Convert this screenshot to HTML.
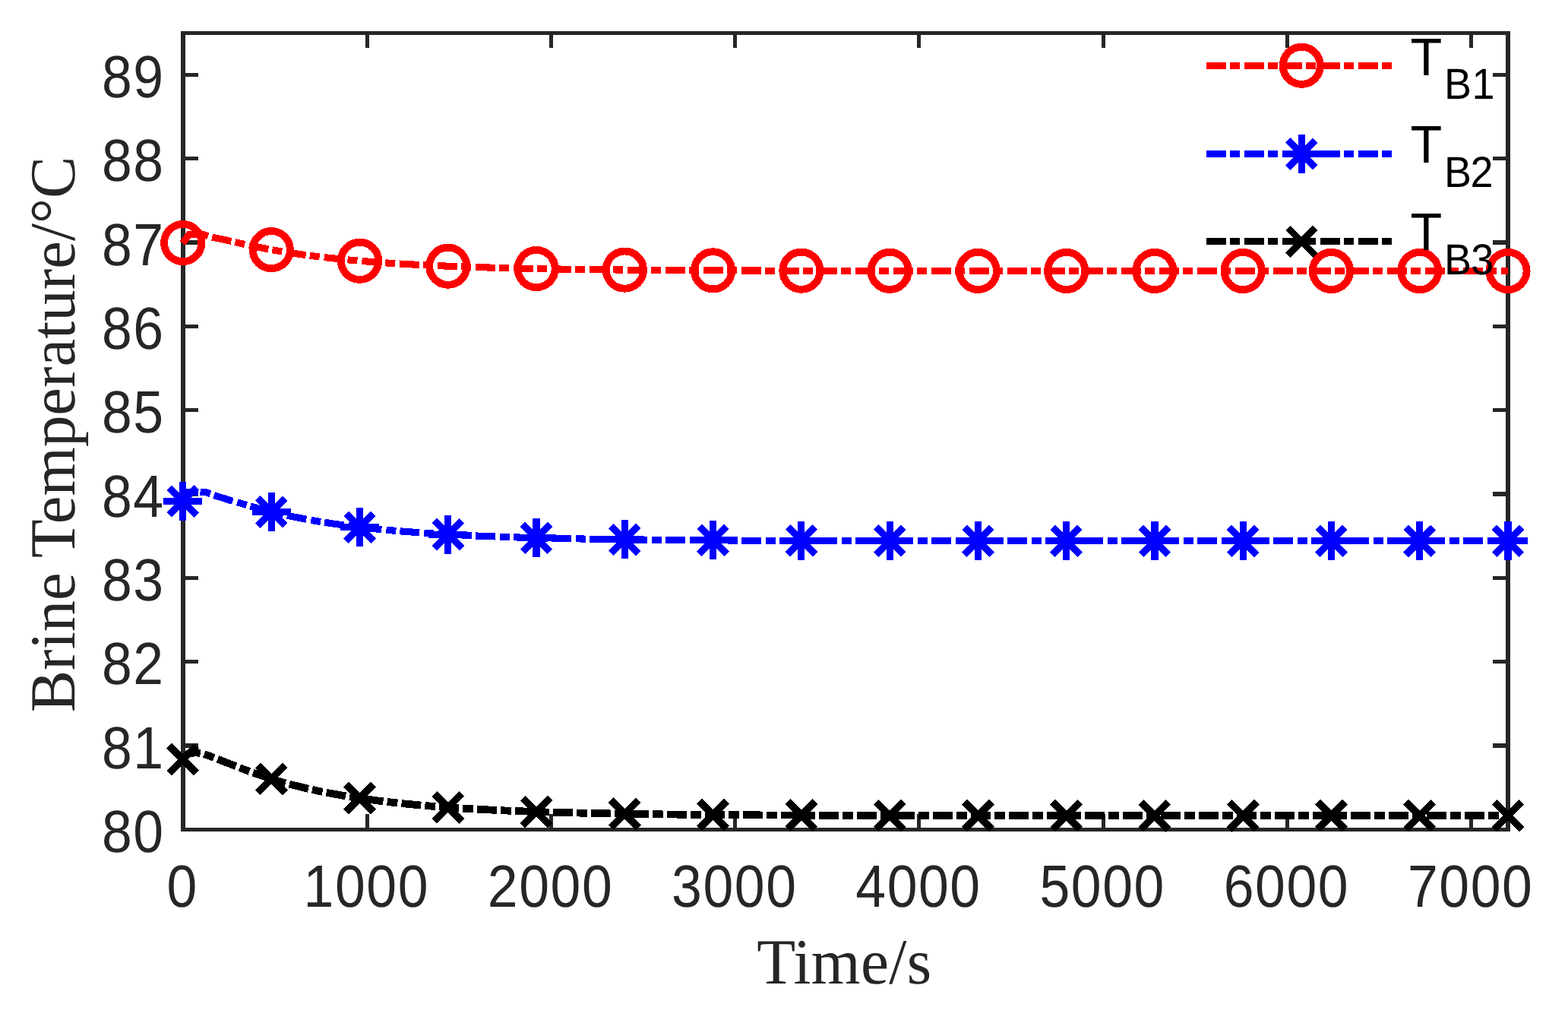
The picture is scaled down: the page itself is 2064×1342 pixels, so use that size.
<!DOCTYPE html>
<html lang="en">
<head>
<meta charset="utf-8">
<title>Brine Temperature vs Time</title>
<style>
html,body{margin:0;padding:0;background:#fff;}
body{width:2064px;height:1342px;overflow:hidden;}
svg{display:block;}
svg text{white-space:pre;text-rendering:geometricPrecision;}
</style>
</head>
<body>
<svg width="2064" height="1342" viewBox="0 0 2064 1342" shape-rendering="crispEdges" role="img" aria-label="Brine temperature versus time for TB1, TB2 and TB3">
<rect x="0" y="0" width="2064" height="1342" fill="#ffffff"/>
<g class="axes" fill="#262626">
<rect x="238" y="41" width="1750" height="5"/>
<rect x="238" y="1089" width="1750" height="5"/>
<rect x="238" y="41" width="6" height="1053"/>
<rect x="1982" y="41" width="6" height="1053"/>
<rect x="481" y="1071" width="5" height="20"/>
<rect x="481" y="44" width="5" height="19"/>
<rect x="723" y="1071" width="5" height="20"/>
<rect x="723" y="44" width="5" height="19"/>
<rect x="965" y="1071" width="5" height="20"/>
<rect x="965" y="44" width="5" height="19"/>
<rect x="1207" y="1071" width="5" height="20"/>
<rect x="1207" y="44" width="5" height="19"/>
<rect x="1450" y="1071" width="5" height="20"/>
<rect x="1450" y="44" width="5" height="19"/>
<rect x="1692" y="1071" width="5" height="20"/>
<rect x="1692" y="44" width="5" height="19"/>
<rect x="1934" y="1071" width="5" height="20"/>
<rect x="1934" y="44" width="5" height="19"/>
<rect x="242" y="978" width="19" height="6"/>
<rect x="1965" y="978" width="19" height="6"/>
<rect x="242" y="868" width="19" height="5"/>
<rect x="1965" y="868" width="19" height="5"/>
<rect x="242" y="758" width="19" height="5"/>
<rect x="1965" y="758" width="19" height="5"/>
<rect x="242" y="647" width="19" height="6"/>
<rect x="1965" y="647" width="19" height="6"/>
<rect x="242" y="537" width="19" height="5"/>
<rect x="1965" y="537" width="19" height="5"/>
<rect x="242" y="427" width="19" height="5"/>
<rect x="1965" y="427" width="19" height="5"/>
<rect x="242" y="316" width="19" height="6"/>
<rect x="1965" y="316" width="19" height="6"/>
<rect x="242" y="206" width="19" height="5"/>
<rect x="1965" y="206" width="19" height="5"/>
<rect x="242" y="96" width="19" height="5"/>
<rect x="1965" y="96" width="19" height="5"/>
</g>
<g class="ticklabels">
<text transform="translate(240.1 1192.9) scale(0.9540 1.0450)" text-anchor="middle" font-family="'Liberation Sans', Arial, Helvetica, sans-serif" font-size="75" fill="#262626" letter-spacing="1.64">0</text>
<text transform="translate(482.32 1192.9) scale(0.9540 1.0450)" text-anchor="middle" font-family="'Liberation Sans', Arial, Helvetica, sans-serif" font-size="75" fill="#262626" letter-spacing="1.64">1000</text>
<text transform="translate(724.54 1192.9) scale(0.9540 1.0450)" text-anchor="middle" font-family="'Liberation Sans', Arial, Helvetica, sans-serif" font-size="75" fill="#262626" letter-spacing="1.64">2000</text>
<text transform="translate(966.77 1192.9) scale(0.9540 1.0450)" text-anchor="middle" font-family="'Liberation Sans', Arial, Helvetica, sans-serif" font-size="75" fill="#262626" letter-spacing="1.64">3000</text>
<text transform="translate(1208.99 1192.9) scale(0.9540 1.0450)" text-anchor="middle" font-family="'Liberation Sans', Arial, Helvetica, sans-serif" font-size="75" fill="#262626" letter-spacing="1.64">4000</text>
<text transform="translate(1451.21 1192.9) scale(0.9540 1.0450)" text-anchor="middle" font-family="'Liberation Sans', Arial, Helvetica, sans-serif" font-size="75" fill="#262626" letter-spacing="1.64">5000</text>
<text transform="translate(1693.43 1192.9) scale(0.9540 1.0450)" text-anchor="middle" font-family="'Liberation Sans', Arial, Helvetica, sans-serif" font-size="75" fill="#262626" letter-spacing="1.64">6000</text>
<text transform="translate(1935.66 1192.9) scale(0.9540 1.0450)" text-anchor="middle" font-family="'Liberation Sans', Arial, Helvetica, sans-serif" font-size="75" fill="#262626" letter-spacing="1.64">7000</text>
<text transform="translate(216.6 1121) scale(0.9540 1.0450)" text-anchor="end" font-family="'Liberation Sans', Arial, Helvetica, sans-serif" font-size="75" fill="#262626" letter-spacing="1.64">80</text>
<text transform="translate(216.6 1010.68) scale(0.9540 1.0450)" text-anchor="end" font-family="'Liberation Sans', Arial, Helvetica, sans-serif" font-size="75" fill="#262626" letter-spacing="1.64">81</text>
<text transform="translate(216.6 900.37) scale(0.9540 1.0450)" text-anchor="end" font-family="'Liberation Sans', Arial, Helvetica, sans-serif" font-size="75" fill="#262626" letter-spacing="1.64">82</text>
<text transform="translate(216.6 790.05) scale(0.9540 1.0450)" text-anchor="end" font-family="'Liberation Sans', Arial, Helvetica, sans-serif" font-size="75" fill="#262626" letter-spacing="1.64">83</text>
<text transform="translate(216.6 679.74) scale(0.9540 1.0450)" text-anchor="end" font-family="'Liberation Sans', Arial, Helvetica, sans-serif" font-size="75" fill="#262626" letter-spacing="1.64">84</text>
<text transform="translate(216.6 569.42) scale(0.9540 1.0450)" text-anchor="end" font-family="'Liberation Sans', Arial, Helvetica, sans-serif" font-size="75" fill="#262626" letter-spacing="1.64">85</text>
<text transform="translate(216.6 459.11) scale(0.9540 1.0450)" text-anchor="end" font-family="'Liberation Sans', Arial, Helvetica, sans-serif" font-size="75" fill="#262626" letter-spacing="1.64">86</text>
<text transform="translate(216.6 348.79) scale(0.9540 1.0450)" text-anchor="end" font-family="'Liberation Sans', Arial, Helvetica, sans-serif" font-size="75" fill="#262626" letter-spacing="1.64">87</text>
<text transform="translate(216.6 238.47) scale(0.9540 1.0450)" text-anchor="end" font-family="'Liberation Sans', Arial, Helvetica, sans-serif" font-size="75" fill="#262626" letter-spacing="1.64">88</text>
<text transform="translate(216.6 128.16) scale(0.9540 1.0450)" text-anchor="end" font-family="'Liberation Sans', Arial, Helvetica, sans-serif" font-size="75" fill="#262626" letter-spacing="1.64">89</text>
</g>
<g class="axislabels">
<text transform="translate(1111.3 1293.7) scale(1.0001 1.0180)" text-anchor="middle" font-family="'Liberation Serif', 'Times New Roman', Times, serif" font-size="83.33" fill="#262626" letter-spacing="0.3">Time/s</text>
<text transform="translate(97.8 571.4) rotate(-90) scale(0.9934 1.0180)" text-anchor="middle" font-family="'Liberation Serif', 'Times New Roman', Times, serif" font-size="83.33" fill="#262626">Brine Temperature/°C</text>
</g>
<g class="series red">
<path d="M240.4 320 L248.6 308.8 L268.5 308.7 L273.9 310.9 M279.09 312.04 L304.44 317.35 M309.4 318.53 L322.04 321.54 M327.91 322.82 L353.31 327.88 M358.32 328.79 L371.14 330.97 M377.06 331.92 L402.69 335.64 M407.75 336.31 L420.65 337.91 M426.61 338.6 L452.37 341.32 M457.44 341.81 L470.39 342.98 M476.37 343.49 L502.19 345.47 M507.28 345.82 L520.25 346.67 M526.24 347.04 L552.1 348.49 M557.2 348.74 L570.18 349.36 M576.18 349.63 L602.05 350.68 M607.15 350.87 L620.14 351.32 M626.14 351.51 L652.03 352.27 M657.13 352.41 L670.12 352.74 M676.12 352.88 L702.01 353.43 M707.11 353.53 L720.11 353.77 M726.11 353.87 L752.01 354.27 M757.11 354.34 L770.11 354.52 M776.11 354.59 L802 354.88 M807.1 354.93 L820.1 355.06 M826.1 355.11 L852 355.33 M857.1 355.36 L870.1 355.45 M876.1 355.49 L902 355.65 M907.1 355.67 L920.1 355.74 M926.1 355.77 L952 355.88 M957.1 355.9 L970.1 355.95 M976.1 355.97 L1002 356.05 M1007.1 356.06 L1020.1 356.1 M1026.1 356.11 L1052 356.17 M1057.1 356.18 L1070.1 356.21 M1076.1 356.22 L1102 356.26 M1107.1 356.27 L1120.1 356.29 M1126.1 356.3 L1152 356.33 M1157.1 356.33 L1170.1 356.35 M1176.1 356.35 L1202 356.38 M1207.1 356.38 L1220.1 356.39 M1226.1 356.39 L1252 356.41 M1257.1 356.41 L1270.1 356.42 M1276.1 356.42 L1302 356.43 M1307.1 356.44 L1320.1 356.44 M1326.1 356.44 L1352 356.45 M1357.1 356.45 L1370.1 356.46 M1376.1 356.46 L1402 356.47 M1407.1 356.47 L1420.1 356.47 M1426.1 356.47 L1452 356.47 M1457.1 356.48 L1470.1 356.48 M1476.1 356.48 L1502 356.48 M1507.1 356.48 L1520.1 356.48 M1526.1 356.48 L1552 356.49 M1557.1 356.49 L1570.1 356.49 M1576.1 356.49 L1602 356.49 M1607.1 356.49 L1620.1 356.49 M1626.1 356.49 L1652 356.49 M1657.1 356.49 L1670.1 356.49 M1676.1 356.49 L1702 356.49 M1707.1 356.5 L1720.1 356.5 M1726.1 356.5 L1752 356.5 M1757.1 356.5 L1770.1 356.5 M1776.1 356.5 L1802 356.5 M1807.1 356.5 L1820.1 356.5 M1826.1 356.5 L1852 356.5 M1857.1 356.5 L1870.1 356.5 M1876.1 356.5 L1902 356.5 M1907.1 356.5 L1920.1 356.5 M1926.1 356.5 L1952 356.5 M1957.1 356.5 L1970.1 356.5 M1976.1 356.5 L1985 356.5" fill="none" stroke="#ff0000" stroke-width="9.1" stroke-linejoin="miter"/>
<circle cx="240.7" cy="319.5" r="24.6" fill="none" stroke="#ff0000" stroke-width="9.9"/>
<circle cx="357.27" cy="328.6" r="24.6" fill="none" stroke="#ff0000" stroke-width="9.9"/>
<circle cx="473.53" cy="343.25" r="24.6" fill="none" stroke="#ff0000" stroke-width="9.9"/>
<circle cx="589.8" cy="350.21" r="24.6" fill="none" stroke="#ff0000" stroke-width="9.9"/>
<circle cx="706.07" cy="353.51" r="24.6" fill="none" stroke="#ff0000" stroke-width="9.9"/>
<circle cx="822.33" cy="355.08" r="24.6" fill="none" stroke="#ff0000" stroke-width="9.9"/>
<circle cx="938.6" cy="355.83" r="24.6" fill="none" stroke="#ff0000" stroke-width="9.9"/>
<circle cx="1054.87" cy="356.18" r="24.6" fill="none" stroke="#ff0000" stroke-width="9.9"/>
<circle cx="1171.13" cy="356.35" r="24.6" fill="none" stroke="#ff0000" stroke-width="9.9"/>
<circle cx="1287.4" cy="356.43" r="24.6" fill="none" stroke="#ff0000" stroke-width="9.9"/>
<circle cx="1403.67" cy="356.47" r="24.6" fill="none" stroke="#ff0000" stroke-width="9.9"/>
<circle cx="1519.93" cy="356.48" r="24.6" fill="none" stroke="#ff0000" stroke-width="9.9"/>
<circle cx="1636.2" cy="356.49" r="24.6" fill="none" stroke="#ff0000" stroke-width="9.9"/>
<circle cx="1752.47" cy="356.5" r="24.6" fill="none" stroke="#ff0000" stroke-width="9.9"/>
<circle cx="1868.73" cy="356.5" r="24.6" fill="none" stroke="#ff0000" stroke-width="9.9"/>
<circle cx="1985" cy="356.5" r="24.6" fill="none" stroke="#ff0000" stroke-width="9.9"/>
</g>
<g class="series blue">
<path d="M240.5 659.4 L246 647.6 L261 647.34 M263.5 647.41 L270.5 647.6 L277.05 649.6 M281.57 651.55 L306.3 659.27 M312.23 660.7 L324.63 664.58 M329.42 666.02 L354.42 672.79 M360.34 674.25 L373.01 677.17 M377.89 678.24 L403.3 683.28 M409.3 684.35 L422.12 686.52 M427.06 687.3 L452.69 691.01 M458.74 691.8 L471.64 693.39 M476.61 693.96 L502.37 696.67 M508.44 697.25 L521.39 698.41 M526.37 698.83 L552.19 700.81 M558.28 701.23 L571.25 702.07 M576.24 702.37 L602.1 703.81 M608.19 704.12 L621.18 704.73 M626.17 704.95 L652.05 706 M658.15 706.22 L671.14 706.67 M676.14 706.83 L702.03 707.59 M708.13 707.75 L721.12 708.07 M726.12 708.19 L752.01 708.74 M758.11 708.86 L771.11 709.09 M776.11 709.18 L802.01 709.58 M808.11 709.66 L821.11 709.83 M826.11 709.9 L852 710.19 M858.1 710.25 L871.1 710.37 M876.1 710.42 L902 710.63 M908.1 710.67 L921.1 710.76 M926.1 710.8 L952 710.95 M958.1 710.98 L971.1 711.05 M976.1 711.07 L1002 711.18 M1008.1 711.21 L1021.1 711.25 M1026.1 711.27 L1052 711.35 M1058.1 711.37 L1071.1 711.4 M1076.1 711.42 L1102 711.47 M1108.1 711.49 L1121.1 711.51 M1126.1 711.52 L1152 711.56 M1158.1 711.57 L1171.1 711.59 M1176.1 711.6 L1202 711.63 M1208.1 711.64 L1221.1 711.65 M1226.1 711.65 L1252 711.68 M1258.1 711.68 L1271.1 711.69 M1276.1 711.69 L1302 711.71 M1308.1 711.71 L1321.1 711.72 M1326.1 711.72 L1352 711.73 M1358.1 711.74 L1371.1 711.74 M1376.1 711.74 L1402 711.75 M1408.1 711.75 L1421.1 711.76 M1426.1 711.76 L1452 711.77 M1458.1 711.77 L1471.1 711.77 M1476.1 711.77 L1502 711.77 M1508.1 711.78 L1521.1 711.78 M1526.1 711.78 L1552 711.78 M1558.1 711.78 L1571.1 711.78 M1576.1 711.78 L1602 711.79 M1608.1 711.79 L1621.1 711.79 M1626.1 711.79 L1652 711.79 M1658.1 711.79 L1671.1 711.79 M1676.1 711.79 L1702 711.79 M1708.1 711.79 L1721.1 711.79 M1726.1 711.79 L1752 711.79 M1758.1 711.8 L1771.1 711.8 M1776.1 711.8 L1802 711.8 M1808.1 711.8 L1821.1 711.8 M1826.1 711.8 L1852 711.8 M1858.1 711.8 L1871.1 711.8 M1876.1 711.8 L1902 711.8 M1908.1 711.8 L1921.1 711.8 M1926.1 711.8 L1952 711.8 M1958.1 711.8 L1971.1 711.8 M1976.1 711.8 L1985 711.8" fill="none" stroke="#0000ff" stroke-width="9.1" stroke-linejoin="miter"/>
<path d="M215.1 659.5 L266.1 659.5 M240.6 634 L240.6 685 M222.57 641.47 L258.63 677.53 M222.57 677.53 L258.63 641.47" fill="none" stroke="#0000ff" stroke-width="9.2"/>
<path d="M331.77 673.5 L382.77 673.5 M357.27 648 L357.27 699 M339.24 655.47 L375.3 691.53 M339.24 691.53 L375.3 655.47" fill="none" stroke="#0000ff" stroke-width="9.2"/>
<path d="M448.03 693.61 L499.03 693.61 M473.53 668.11 L473.53 719.11 M455.5 675.58 L491.56 711.64 M455.5 711.64 L491.56 675.58" fill="none" stroke="#0000ff" stroke-width="9.2"/>
<path d="M564.3 703.16 L615.3 703.16 M589.8 677.66 L589.8 728.66 M571.77 685.13 L607.83 721.19 M571.77 721.19 L607.83 685.13" fill="none" stroke="#0000ff" stroke-width="9.2"/>
<path d="M680.57 707.7 L731.57 707.7 M706.07 682.2 L706.07 733.2 M688.04 689.66 L724.1 725.73 M688.04 725.73 L724.1 689.66" fill="none" stroke="#0000ff" stroke-width="9.2"/>
<path d="M796.83 709.85 L847.83 709.85 M822.33 684.35 L822.33 735.35 M804.3 691.82 L840.36 727.88 M804.3 727.88 L840.36 691.82" fill="none" stroke="#0000ff" stroke-width="9.2"/>
<path d="M913.1 710.87 L964.1 710.87 M938.6 685.37 L938.6 736.37 M920.57 692.84 L956.63 728.91 M920.57 728.91 L956.63 692.84" fill="none" stroke="#0000ff" stroke-width="9.2"/>
<path d="M1029.37 711.36 L1080.37 711.36 M1054.87 685.86 L1054.87 736.86 M1036.84 693.33 L1072.9 729.39 M1036.84 729.39 L1072.9 693.33" fill="none" stroke="#0000ff" stroke-width="9.2"/>
<path d="M1145.63 711.59 L1196.63 711.59 M1171.13 686.09 L1171.13 737.09 M1153.1 693.56 L1189.16 729.62 M1153.1 729.62 L1189.16 693.56" fill="none" stroke="#0000ff" stroke-width="9.2"/>
<path d="M1261.9 711.7 L1312.9 711.7 M1287.4 686.2 L1287.4 737.2 M1269.37 693.67 L1305.43 729.73 M1269.37 729.73 L1305.43 693.67" fill="none" stroke="#0000ff" stroke-width="9.2"/>
<path d="M1378.17 711.75 L1429.17 711.75 M1403.67 686.25 L1403.67 737.25 M1385.64 693.72 L1421.7 729.78 M1385.64 729.78 L1421.7 693.72" fill="none" stroke="#0000ff" stroke-width="9.2"/>
<path d="M1494.43 711.78 L1545.43 711.78 M1519.93 686.28 L1519.93 737.28 M1501.9 693.75 L1537.96 729.81 M1501.9 729.81 L1537.96 693.75" fill="none" stroke="#0000ff" stroke-width="9.2"/>
<path d="M1610.7 711.79 L1661.7 711.79 M1636.2 686.29 L1636.2 737.29 M1618.17 693.76 L1654.23 729.82 M1618.17 729.82 L1654.23 693.76" fill="none" stroke="#0000ff" stroke-width="9.2"/>
<path d="M1726.97 711.79 L1777.97 711.79 M1752.47 686.29 L1752.47 737.29 M1734.44 693.76 L1770.5 729.83 M1734.44 729.83 L1770.5 693.76" fill="none" stroke="#0000ff" stroke-width="9.2"/>
<path d="M1843.23 711.8 L1894.23 711.8 M1868.73 686.3 L1868.73 737.3 M1850.7 693.77 L1886.76 729.83 M1850.7 729.83 L1886.76 693.77" fill="none" stroke="#0000ff" stroke-width="9.2"/>
<path d="M1959.5 711.8 L2010.5 711.8 M1985 686.3 L1985 737.3 M1966.97 693.77 L2003.03 729.83 M1966.97 729.83 L2003.03 693.77" fill="none" stroke="#0000ff" stroke-width="9.2"/>
</g>
<g class="series black">
<path d="M240.95 998.67 L246 993.16 L247.5 991.88 L248.5 991.3 L249.5 991 L257 990.4 L263.69 990.91 M268.63 992.18 L281.72 996.83 M286.45 998.73 L310.58 1008.13 M315.33 1009.99 L328.27 1015.05 M333.06 1016.8 L357.62 1025.01 M362.5 1026.49 L375.87 1030.32 M380.79 1031.65 L405.94 1037.83 M410.92 1038.94 L424.52 1041.8 M429.52 1042.79 L455.01 1047.37 M460.05 1048.19 L473.79 1050.29 M478.83 1051.02 L504.51 1054.39 M509.58 1054.99 L523.39 1056.53 M528.47 1057.06 L554.25 1059.52 M559.33 1059.95 L573.18 1061.08 M578.27 1061.47 L604.11 1063.26 M609.2 1063.58 L623.07 1064.39 M628.17 1064.68 L654.03 1065.98 M659.13 1066.21 L673.01 1066.8 M678.11 1067.01 L703.99 1067.95 M709.09 1068.12 L722.98 1068.55 M728.08 1068.7 L753.97 1069.39 M759.07 1069.51 L772.97 1069.83 M778.07 1069.94 L803.96 1070.43 M809.06 1070.52 L822.96 1070.75 M828.06 1070.83 L853.96 1071.19 M859.06 1071.26 L872.95 1071.42 M878.05 1071.48 L903.95 1071.74 M909.05 1071.79 L922.95 1071.91 M928.05 1071.95 L953.95 1072.14 M959.05 1072.18 L972.95 1072.26 M978.05 1072.29 L1003.95 1072.43 M1009.05 1072.46 L1022.95 1072.52 M1028.05 1072.54 L1053.95 1072.64 M1059.05 1072.66 L1072.95 1072.71 M1078.05 1072.72 L1103.95 1072.79 M1109.05 1072.81 L1122.95 1072.84 M1128.05 1072.85 L1153.95 1072.91 M1159.05 1072.92 L1172.95 1072.94 M1178.05 1072.95 L1203.95 1072.99 M1209.05 1072.99 L1222.95 1073.01 M1228.05 1073.02 L1253.95 1073.04 M1259.05 1073.05 L1272.95 1073.06 M1278.05 1073.07 L1303.95 1073.09 M1309.05 1073.09 L1322.95 1073.1 M1328.05 1073.1 L1353.95 1073.12 M1359.05 1073.12 L1372.95 1073.13 M1378.05 1073.13 L1403.95 1073.14 M1409.05 1073.14 L1422.95 1073.15 M1428.05 1073.15 L1453.95 1073.16 M1459.05 1073.16 L1472.95 1073.16 M1478.05 1073.16 L1503.95 1073.17 M1509.05 1073.17 L1522.95 1073.17 M1528.05 1073.17 L1553.95 1073.18 M1559.05 1073.18 L1572.95 1073.18 M1578.05 1073.18 L1603.95 1073.18 M1609.05 1073.18 L1622.95 1073.19 M1628.05 1073.19 L1653.95 1073.19 M1659.05 1073.19 L1672.95 1073.19 M1678.05 1073.19 L1703.95 1073.19 M1709.05 1073.19 L1722.95 1073.19 M1728.05 1073.19 L1753.95 1073.19 M1759.05 1073.19 L1772.95 1073.19 M1778.05 1073.19 L1803.95 1073.2 M1809.05 1073.2 L1822.95 1073.2 M1828.05 1073.2 L1853.95 1073.2 M1859.05 1073.2 L1872.95 1073.2 M1878.05 1073.2 L1903.95 1073.2 M1909.05 1073.2 L1922.95 1073.2 M1928.05 1073.2 L1953.95 1073.2 M1959.05 1073.2 L1972.95 1073.2 M1978.05 1073.2 L1985 1073.2" fill="none" stroke="#000000" stroke-width="9.8" stroke-linejoin="miter"/>
<path d="M222.77 981.07 L258.83 1017.13 M222.77 1017.13 L258.83 981.07" fill="none" stroke="#000000" stroke-width="9.6"/>
<path d="M339.24 1006.87 L375.3 1042.93 M339.24 1042.93 L375.3 1006.87" fill="none" stroke="#000000" stroke-width="9.6"/>
<path d="M455.5 1032.23 L491.56 1068.29 M455.5 1068.29 L491.56 1032.23" fill="none" stroke="#000000" stroke-width="9.6"/>
<path d="M571.77 1044.27 L607.83 1080.33 M571.77 1080.33 L607.83 1044.27" fill="none" stroke="#000000" stroke-width="9.6"/>
<path d="M688.04 1049.99 L724.1 1086.05 M688.04 1086.05 L724.1 1049.99" fill="none" stroke="#000000" stroke-width="9.6"/>
<path d="M804.3 1052.71 L840.36 1088.77 M804.3 1088.77 L840.36 1052.71" fill="none" stroke="#000000" stroke-width="9.6"/>
<path d="M920.57 1054 L956.63 1090.06 M920.57 1090.06 L956.63 1054" fill="none" stroke="#000000" stroke-width="9.6"/>
<path d="M1036.84 1054.61 L1072.9 1090.68 M1036.84 1090.68 L1072.9 1054.61" fill="none" stroke="#000000" stroke-width="9.6"/>
<path d="M1153.1 1054.91 L1189.16 1090.97 M1153.1 1090.97 L1189.16 1054.91" fill="none" stroke="#000000" stroke-width="9.6"/>
<path d="M1269.37 1055.04 L1305.43 1091.11 M1269.37 1091.11 L1305.43 1055.04" fill="none" stroke="#000000" stroke-width="9.6"/>
<path d="M1385.64 1055.11 L1421.7 1091.17 M1385.64 1091.17 L1421.7 1055.11" fill="none" stroke="#000000" stroke-width="9.6"/>
<path d="M1501.9 1055.14 L1537.96 1091.2 M1501.9 1091.2 L1537.96 1055.14" fill="none" stroke="#000000" stroke-width="9.6"/>
<path d="M1618.17 1055.16 L1654.23 1091.22 M1618.17 1091.22 L1654.23 1055.16" fill="none" stroke="#000000" stroke-width="9.6"/>
<path d="M1734.44 1055.16 L1770.5 1091.22 M1734.44 1091.22 L1770.5 1055.16" fill="none" stroke="#000000" stroke-width="9.6"/>
<path d="M1850.7 1055.17 L1886.76 1091.23 M1850.7 1091.23 L1886.76 1055.17" fill="none" stroke="#000000" stroke-width="9.6"/>
<path d="M1966.97 1055.17 L2003.03 1091.23 M1966.97 1091.23 L2003.03 1055.17" fill="none" stroke="#000000" stroke-width="9.6"/>
</g>
<g class="legend">
<path d="M1588.15 86.3 L1613.85 86.3 M1619.25 86.3 L1631.95 86.3 M1638.15 86.3 L1663.85 86.3 M1669.25 86.3 L1681.95 86.3 M1688.15 86.3 L1713.85 86.3 M1719.25 86.3 L1731.95 86.3 M1738.15 86.3 L1763.85 86.3 M1769.25 86.3 L1781.95 86.3 M1788.15 86.3 L1813.85 86.3 M1819.25 86.3 L1831.8 86.3" fill="none" stroke="#ff0000" stroke-width="9.1"/>
<circle cx="1713.3" cy="86.3" r="24.6" fill="none" stroke="#ff0000" stroke-width="9.9"/>
<text transform="translate(1856.6 98.9) scale(1.0250 1.0450)" text-anchor="start" font-family="'Liberation Sans', Arial, Helvetica, sans-serif" font-size="66.67" fill="#000">T</text>
<text transform="translate(1901 130) scale(1.0000 1.0600)" text-anchor="start" font-family="'Liberation Sans', Arial, Helvetica, sans-serif" font-size="54" fill="#000" letter-spacing="0.4">B1</text>
<path d="M1588.15 202.5 L1613.85 202.5 M1619.25 202.5 L1631.95 202.5 M1638.15 202.5 L1663.85 202.5 M1669.25 202.5 L1681.95 202.5 M1688.15 202.5 L1713.85 202.5 M1719.25 202.5 L1731.95 202.5 M1738.15 202.5 L1763.85 202.5 M1769.25 202.5 L1781.95 202.5 M1788.15 202.5 L1813.85 202.5 M1819.25 202.5 L1831.8 202.5" fill="none" stroke="#0000ff" stroke-width="9.1"/>
<path d="M1687.8 202.6 L1738.8 202.6 M1713.3 177.1 L1713.3 228.1 M1695.27 184.57 L1731.33 220.63 M1695.27 220.63 L1731.33 184.57" fill="none" stroke="#0000ff" stroke-width="9"/>
<text transform="translate(1856.6 213.9) scale(1.0250 1.0450)" text-anchor="start" font-family="'Liberation Sans', Arial, Helvetica, sans-serif" font-size="66.67" fill="#000">T</text>
<text transform="translate(1901 245.9) scale(1.0000 1.0600)" text-anchor="start" font-family="'Liberation Sans', Arial, Helvetica, sans-serif" font-size="54" fill="#000" letter-spacing="-1.6">B2</text>
<path d="M1588.15 317.4 L1613.85 317.4 M1619.25 317.4 L1631.95 317.4 M1638.15 317.4 L1663.85 317.4 M1669.25 317.4 L1681.95 317.4 M1688.15 317.4 L1713.85 317.4 M1719.25 317.4 L1731.95 317.4 M1738.15 317.4 L1763.85 317.4 M1769.25 317.4 L1781.95 317.4 M1788.15 317.4 L1813.85 317.4 M1819.25 317.4 L1831.8 317.4" fill="none" stroke="#000000" stroke-width="9.1"/>
<path d="M1695.27 299.77 L1731.33 335.83 M1695.27 335.83 L1731.33 299.77" fill="none" stroke="#000000" stroke-width="9"/>
<text transform="translate(1856.6 328.9) scale(1.0250 1.0450)" text-anchor="start" font-family="'Liberation Sans', Arial, Helvetica, sans-serif" font-size="66.67" fill="#000">T</text>
<text transform="translate(1901 360.9) scale(1.0000 1.0600)" text-anchor="start" font-family="'Liberation Sans', Arial, Helvetica, sans-serif" font-size="54" fill="#000" letter-spacing="-0.7">B3</text>
</g>
</svg>
</body>
</html>
